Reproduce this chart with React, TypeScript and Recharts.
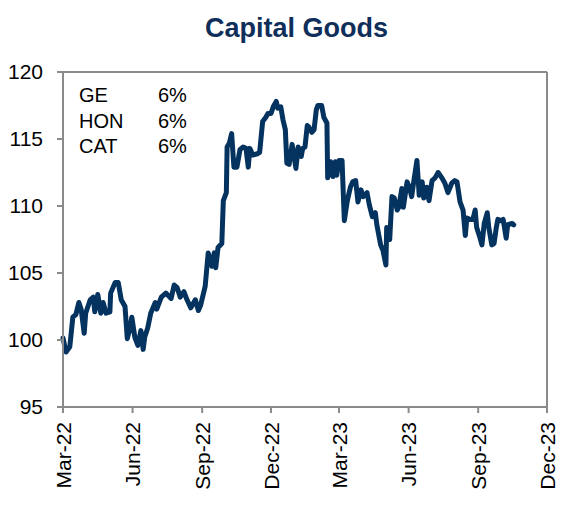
import { LineChart, Line, XAxis, YAxis, ReferenceLine } from 'recharts';

const FONT = '"Liberation Sans", Arial, sans-serif';
const NAVY = '#05335f';
const AXIS = '#8a8a8a';

const title = 'Capital Goods';

// holdings shown in the top-left text box
const holdings = ['GE', 'HON', 'CAT'];
const weights = ['6%', '6%', '6%'];

const yTicks = [95, 100, 105, 110, 115, 120];
const xTickDates = ['2022-03-01', '2022-06-01', '2022-09-01', '2022-12-01', '2023-03-01', '2023-06-01', '2023-09-01', '2023-12-01'];
const xTickLabels = ['Mar-22', 'Jun-22', 'Sep-22', 'Dec-22', 'Mar-23', 'Jun-23', 'Sep-23', 'Dec-23'];

const dates = [
  '2022-03-01', '2022-03-05', '2022-03-10', '2022-03-14', '2022-03-18', '2022-03-22', '2022-03-25', '2022-03-29', '2022-03-31',
  '2022-04-06', '2022-04-10', '2022-04-12', '2022-04-16', '2022-04-20', '2022-04-23', '2022-04-27',
  '2022-05-02', '2022-05-03', '2022-05-09', '2022-05-13', '2022-05-17', '2022-05-22', '2022-05-25', '2022-05-29', '2022-05-31',
  '2022-06-04', '2022-06-08', '2022-06-12', '2022-06-15', '2022-06-17', '2022-06-21', '2022-06-25',
  '2022-07-01', '2022-07-03', '2022-07-09', '2022-07-15', '2022-07-22', '2022-07-26', '2022-07-30',
  '2022-08-03', '2022-08-08', '2022-08-12', '2022-08-17', '2022-08-23', '2022-08-27', '2022-08-30',
  '2022-09-05', '2022-09-09', '2022-09-14', '2022-09-17', '2022-09-19', '2022-09-22', '2022-09-27', '2022-09-29',
  '2022-10-03', '2022-10-04', '2022-10-07', '2022-10-10', '2022-10-13', '2022-10-17', '2022-10-21', '2022-10-25', '2022-10-29',
  '2022-11-01', '2022-11-03', '2022-11-07', '2022-11-13', '2022-11-16', '2022-11-20', '2022-11-24', '2022-11-27',
  '2022-12-01', '2022-12-04', '2022-12-08', '2022-12-10', '2022-12-14', '2022-12-17', '2022-12-20', '2022-12-22', '2022-12-25', '2022-12-29', '2022-12-31',
  '2023-01-03', '2023-01-06', '2023-01-10', '2023-01-12', '2023-01-15', '2023-01-18', '2023-01-20', '2023-01-24', '2023-01-27', '2023-01-30',
  '2023-02-01', '2023-02-06', '2023-02-09', '2023-02-13', '2023-02-14', '2023-02-18', '2023-02-21', '2023-02-24', '2023-02-26',
  '2023-03-01', '2023-03-05', '2023-03-08', '2023-03-12', '2023-03-16', '2023-03-19', '2023-03-23', '2023-03-26', '2023-03-30',
  '2023-04-02', '2023-04-07', '2023-04-10', '2023-04-14', '2023-04-18', '2023-04-20', '2023-04-25', '2023-04-28',
  '2023-05-02', '2023-05-03', '2023-05-07', '2023-05-10', '2023-05-13', '2023-05-17', '2023-05-19', '2023-05-23', '2023-05-25', '2023-05-30',
  '2023-06-02', '2023-06-05', '2023-06-08', '2023-06-12', '2023-06-15', '2023-06-19', '2023-06-21', '2023-06-25', '2023-06-28',
  '2023-07-02', '2023-07-06', '2023-07-10', '2023-07-15', '2023-07-19', '2023-07-23', '2023-07-28',
  '2023-08-01', '2023-08-04', '2023-08-08', '2023-08-12', '2023-08-15', '2023-08-17', '2023-08-21', '2023-08-25', '2023-08-28', '2023-08-30',
  '2023-09-03', '2023-09-06', '2023-09-09', '2023-09-13', '2023-09-15', '2023-09-19', '2023-09-22', '2023-09-25', '2023-09-27',
  '2023-10-01', '2023-10-04', '2023-10-08', '2023-10-10', '2023-10-16', '2023-10-18',
];

const values = [
  100.15, 99.1, 99.5, 101.7, 101.9, 102.8, 102.3, 100.5, 102.0,
  103.0, 103.2, 102.1, 103.4, 102.0, 102.8, 102.0,
  102.1, 103.5, 104.3, 104.3, 103.0, 102.5, 100.1, 101.0, 101.7,
  100.2, 99.6, 100.7, 99.3, 100.2, 100.9, 102.0,
  102.8, 102.3, 103.2, 103.5, 103.1, 104.1, 103.9,
  103.2, 103.6, 103.0, 102.4, 103.0, 102.2, 102.6,
  104.0, 106.5, 105.5, 106.5, 105.4, 106.9, 107.2, 110.4,
  111.0, 114.4, 114.7, 115.4, 112.9, 112.9, 114.2, 114.4, 114.3,
  112.9, 114.3, 113.8, 113.9, 114.0, 116.3, 116.6, 116.9,
  116.9, 117.4, 117.8, 117.3, 117.4, 116.4, 115.7, 113.2, 113.1, 114.6, 113.9,
  112.8, 114.4, 113.7, 114.3, 114.4, 116.0, 115.9, 115.5, 115.7, 117.2,
  117.5, 117.5, 116.6, 116.2, 112.1, 113.3, 112.2, 113.3, 112.3,
  113.4, 113.4, 108.9, 110.4, 111.4, 111.8, 111.9, 110.3, 111.2,
  110.7, 111.0, 110.1, 109.2, 109.5, 108.6, 107.1, 106.7,
  105.6, 108.4, 107.5, 110.7, 110.6, 109.7, 109.9, 111.3, 109.9, 111.8,
  111.4, 110.7, 111.9, 113.4, 110.8, 111.8, 110.6, 111.4, 110.4,
  111.9, 112.1, 112.5, 112.1, 111.7, 111.0, 111.7,
  111.9, 111.8, 110.3, 109.7, 107.8, 109.1, 109.0, 109.0, 109.7, 108.4,
  107.7, 107.1, 108.7, 109.5, 108.4, 107.1, 107.2, 108.4, 109.0,
  108.9, 109.0, 107.6, 108.6, 108.7, 108.6,
];

const data = dates.map((d, i) => ({ t: Date.parse(d), v: values[i] }));
const xTicks = xTickDates.map(d => Date.parse(d));

function XTick({ x, y, payload }: any) {
  const i = xTicks.indexOf(payload.value);
  return (
    <g transform={`translate(${x},${y})`}>
      <text transform="rotate(-90)" x={-7} dy="0.36em" textAnchor="end" fill="#000" fontSize={21} fontFamily={FONT}>
        {xTickLabels[i]}
      </text>
    </g>
  );
}

export default function App() {
  return (
    <div style={{ position: 'absolute', left: 0, top: 0, width: 572, height: 510, background: '#fff' }}>
      <LineChart width={572} height={510} data={data} margin={{ top: 72, right: 25, left: 8, bottom: 3 }}>
        <XAxis
          dataKey="t"
          type="number"
          domain={[xTicks[0], xTicks[xTicks.length - 1]]}
          ticks={xTicks}
          tick={<XTick />}
          height={100}
          interval={0}
          stroke={AXIS}
          strokeWidth={2}
          tickSize={6}
        />
        <YAxis
          domain={[95, 120]}
          ticks={yTicks}
          width={55}
          interval={0}
          stroke={AXIS}
          strokeWidth={2}
          tickSize={6}
          tickMargin={14}
          tick={{ fill: '#000', fontSize: 21, fontFamily: FONT }}
        />
        <ReferenceLine y={120} stroke={AXIS} strokeWidth={2} />
        <ReferenceLine x={xTicks[xTicks.length - 1]} stroke={AXIS} strokeWidth={2} />
        <Line
          dataKey="v"
          type="linear"
          stroke={NAVY}
          strokeWidth={5}
          strokeLinejoin="round"
          strokeLinecap="round"
          dot={false}
          isAnimationActive={false}
        />
      </LineChart>
      <svg width={572} height={510} style={{ position: 'absolute', left: 0, top: 0, pointerEvents: 'none' }}>
        <text x={205} y={37} fontSize={27} fontWeight="bold" fill="#0f2f5a" fontFamily={FONT}>
          {title}
        </text>
        {holdings.map((h, i) => (
          <g key={h} fontSize={20} fontFamily={FONT} fill="#000">
            <text x={79} y={102 + i * 25.5}>{h}</text>
            <text x={158} y={102 + i * 25.5}>{weights[i]}</text>
          </g>
        ))}
      </svg>
    </div>
  );
}
